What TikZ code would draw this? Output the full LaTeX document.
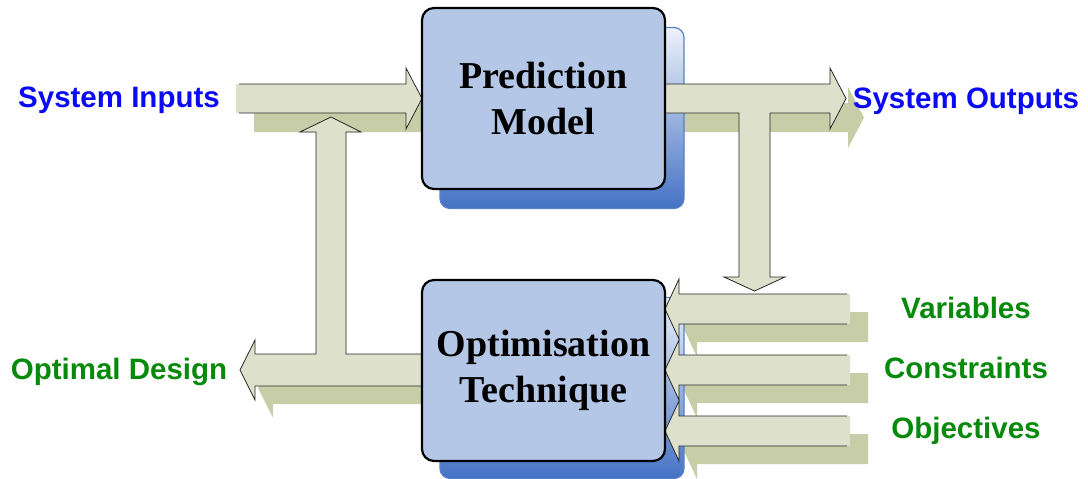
\documentclass[tikz,border=0pt]{standalone}
\usepackage{fontspec}
\setmainfont{Liberation Serif}
\newfontfamily\labelfont{Liberation Sans}
\usetikzlibrary{calc}

\definecolor{arrowfill}{HTML}{DDE1CB}
\definecolor{arrowshade}{HTML}{C6CDA7}
\definecolor{boxfill}{HTML}{B4C7E6}
\definecolor{boxshade}{HTML}{4472C4}
\definecolor{boxshadetop}{HTML}{EEF2FA}
\definecolor{labelblue}{HTML}{0A0AF5}
\definecolor{labelgreen}{HTML}{078A0C}

\tikzset{
  arrowbody/.style={fill=arrowfill},
  arrowedge/.style={draw=black!85, line width=0.8pt, line join=miter},
  arrowshadow/.style={fill=arrowshade},
  boxshadow/.style={rounded corners=10pt, top color=boxshadetop, bottom color=boxshade,
    draw=boxshade!90!white, line width=1.2pt, minimum width=244pt, minimum height=181pt},
  modelbox/.style={rounded corners=12pt, fill=boxfill, draw=black, line width=2.2pt,
    minimum width=243pt, minimum height=181pt, align=center,
    font=\bfseries\fontsize{38}{46}\selectfont},
  sidelabel/.style={anchor=base, font=\labelfont\bfseries\fontsize{29.5}{34}\selectfont},
  inlabel/.style={sidelabel, text=labelblue},
  designlabel/.style={sidelabel, text=labelgreen}
}

% left-pointing block arrow: #1 tip, #2 offset of the copy (shadow), #3 style
\newcommand\leftblock[3]{%
  \fill[#3] ($(#1)+(#2)$) -- ++(14,-30) -- ++(0,15) -- ++(171,0) -- ++(0,30)
    -- ++(-171,0) -- ++(0,15) -- cycle;}
\newcommand\leftblockedge[1]{%
  \draw[arrowedge] ($(#1)+(182,-15)$) -- ++(-168,0) -- ++(0,-15) -- (#1)
    -- ++(14,30) -- ++(0,-15) -- ++(168,0);}

\begin{document}
\begin{tikzpicture}[x=1pt,y=-1pt]
\useasboundingbox (0,0) rectangle (1088,479);

% tips of the block arrows
\coordinate (tipin)  at (422,98.5);
\coordinate (tipout) at (846,98.5);
\coordinate (tipopt) at (240,370);
\coordinate (tipvar) at (665,309);
\coordinate (tipcon) at (665,370);
\coordinate (tipobj) at (665,431);

% ---------- arrow shadows ----------
\fill[arrowshadow] ($(tipin)+(18,19)$) -- ++(-16,-30.5) -- ++(0,16) -- ++(-170,0)
  -- ++(0,29) -- ++(170,0) -- ++(0,16) -- cycle;
\fill[arrowshadow] ($(tipout)+(18,19)$) -- ++(-16,-30.5) -- ++(0,16) -- ++(-165,0)
  -- ++(0,29) -- ++(165,0) -- ++(0,16) -- cycle;
\fill[arrowshadow] ($(tipopt)+(18,18)$) -- ++(15,-30) -- ++(0,14) -- ++(167,0)
  -- ++(0,32) -- ++(-167,0) -- ++(0,14) -- cycle;
\leftblock{tipvar}{18,18}{arrowshadow}
\leftblock{tipcon}{18,18}{arrowshadow}
\leftblock{tipobj}{18,18}{arrowshadow}

% ---------- box shadows ----------
\node[boxshadow] (predshadow) at (562,118) {};
\node[boxshadow] (optshadow)  at (562,388) {};

% ---------- block arrows ----------
% system inputs
\fill[arrowbody] (236,84) -- (406,84) -- (406,68) -- (tipin) -- (406,129) -- (406,113) -- (236,113) -- cycle;
\draw[arrowedge] (239,84) -- (406,84) -- (406,68) -- (tipin) -- (406,129) -- (406,113) -- (239,113);

% optimal design with the feedback branch up to the inputs
\fill[arrowbody] (422,354) -- (346,354) -- (346,132) -- (361,132) -- (331,117) -- (300,132)
  -- (316,132) -- (316,354) -- (255,354) -- (255,340) -- (tipopt) -- (255,400) -- (255,386)
  -- (422,386) -- cycle;
\draw[arrowedge] (422,354) -- (346,354) -- (346,132) -- (361,132) -- (331,117) -- (300,132)
  -- (316,132) -- (316,354) -- (255,354) -- (255,340) -- (tipopt) -- (255,400) -- (255,386)
  -- (422,386);

% system outputs with the branch down to the optimiser
\fill[arrowbody] (665,84) -- (830,84) -- (830,68) -- (tipout) -- (830,129) -- (830,113)
  -- (770,113) -- (770,277) -- (785,277) -- (754.5,291) -- (724,277) -- (739,277)
  -- (739,113) -- (665,113) -- cycle;
\draw[arrowedge] (665,84) -- (830,84) -- (830,68) -- (tipout) -- (830,129) -- (830,113)
  -- (770,113) -- (770,277) -- (785,277) -- (754.5,291) -- (724,277) -- (739,277)
  -- (739,113) -- (665,113);

% variables, constraints, objectives
\leftblock{tipvar}{0,0}{arrowbody}
\leftblock{tipcon}{0,0}{arrowbody}
\leftblock{tipobj}{0,0}{arrowbody}
\leftblockedge{tipvar}
\leftblockedge{tipcon}
\leftblockedge{tipobj}

% ---------- boxes ----------
\node[modelbox] (pred) at (543.5,98.5) {Prediction\\Model};
\node[modelbox] (opt)  at (543.5,370.5) {Optimisation\\Technique};

% ---------- labels ----------
\node[inlabel] (sysin)  at (119,107) {System Inputs};
\node[inlabel] (sysout) at (966,108) {System Outputs};
\node[designlabel] (design) at (119,379) {Optimal Design};
\node[designlabel] (vars) at (966,318) {Variables};
\node[designlabel] (cons) at (966,378) {Constraints};
\node[designlabel] (objs) at (966,438) {Objectives};
\end{tikzpicture}
\end{document}
